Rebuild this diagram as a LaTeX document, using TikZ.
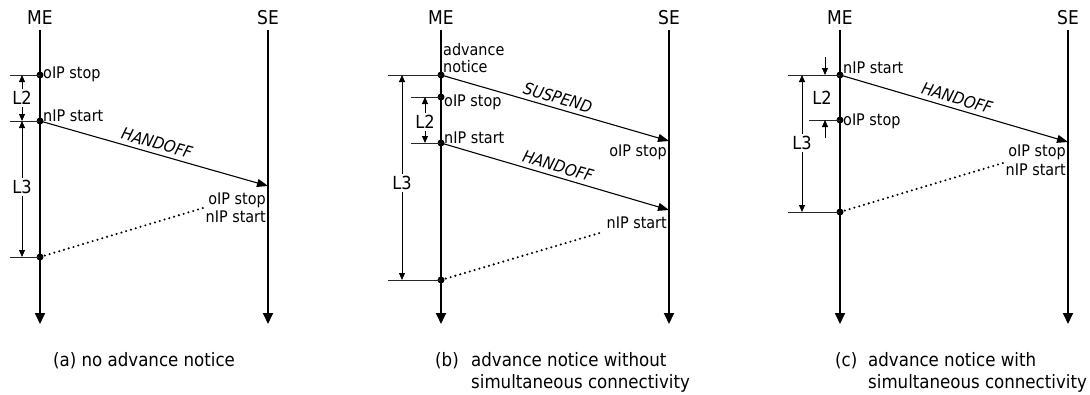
\documentclass[tikz,border=0pt]{standalone}
\usepackage{fontspec}
\setmainfont{DejaVu Sans Condensed}
\usetikzlibrary{arrows.meta}
\begin{document}
\begin{tikzpicture}[x=1pt,y=-1pt,
  life/.style={line width=1.8pt,-{Triangle[length=11pt,width=10pt]}},
  msg/.style={line width=1.1pt,-{Triangle[length=11pt,width=8pt]}},
  dimarrow/.style={line width=0.8pt,-{Triangle[length=7pt,width=6pt]}},
  tickline/.style={line width=0.9pt,black!85},
  dotline/.style={line width=2.3pt,dash pattern=on 0pt off 5pt,line cap=round},
  lbl/.style={inner sep=0pt,font=\fontsize{16}{18}\selectfont},
  mlbl/.style={inner sep=0pt,font=\fontsize{16.5}{18}\selectfont\itshape},
  dimlbl/.style={inner sep=2pt,font=\fontsize{18}{20}\selectfont},
  headlbl/.style={inner sep=0pt,font=\fontsize{19}{22}\selectfont},
  captxt/.style={inner sep=0pt,anchor=base west,font=\fontsize{18.5}{22}\selectfont},
  evdot/.style={circle,fill,inner sep=0pt,minimum size=7pt}
]
\useasboundingbox (0,0) rectangle (1090,394);

% ================= (a) =================
\node[headlbl] (aME) at (40,18) {ME};
\node[headlbl] (aSE) at (268,18) {SE};
\coordinate (aMEt) at (40,30); \coordinate (aMEb) at (40,324);
\coordinate (aSEt) at (268,30); \coordinate (aSEb) at (268,324);
\draw[life] (aMEt) -- (aMEb);
\draw[life] (aSEt) -- (aSEb);
\node[evdot] (a1) at (40,75) {};
\node[evdot] (a2) at (40,121) {};
\node[evdot] (a3) at (40,257) {};
\coordinate (aT1) at (10,75); \coordinate (aT2) at (10,121); \coordinate (aT3) at (10,257);
\draw[tickline] (aT1) -- (a1.center);
\draw[tickline] (aT2) -- (a2.center);
\draw[tickline] (aT3) -- (a3.center);
\coordinate (aD1) at (22,75); \coordinate (aD2) at (22,121); \coordinate (aD3) at (22,257);
\node[dimlbl] (aL2) at (22,98) {L2};
\node[dimlbl] (aL3) at (22,187) {L3};
\draw[dimarrow] (aL2.north) -- (aD1);
\draw[dimarrow] (aL2.south) -- (aD2);
\draw[dimarrow] (aL3.north) -- (aD2);
\draw[dimarrow] (aL3.south) -- (aD3);
\node[lbl,anchor=base west] (aoIP) at (43,78) {oIP stop};
\node[lbl,anchor=base west] (anIP) at (43,121) {nIP start};
\coordinate (aS1) at (268,186);
\draw[msg] (a2.center) -- node[mlbl,sloped,above=4pt] (aHO) {HANDOFF} (aS1);
\node[lbl,anchor=base east] (aSo) at (266,204) {oIP stop};
\node[lbl,anchor=base east] (aSn) at (266,222) {nIP start};
\coordinate (aDot) at (203,208);
\draw[dotline] (a3.center) -- (aDot);
\node[captxt] (acap) at (53,366) {(a) no advance notice};

% ================= (b) =================
\node[headlbl] (bME) at (441,18) {ME};
\node[headlbl] (bSE) at (669,18) {SE};
\coordinate (bMEt) at (441,30); \coordinate (bMEb) at (441,324);
\coordinate (bSEt) at (669,30); \coordinate (bSEb) at (669,324);
\draw[life] (bMEt) -- (bMEb);
\draw[life] (bSEt) -- (bSEb);
\node[evdot] (b1) at (441,75) {};
\node[evdot] (b2) at (441,97) {};
\node[evdot] (b3) at (441,143) {};
\node[evdot] (b4) at (441,280) {};
\coordinate (bT1) at (388,75); \coordinate (bT2) at (411,97);
\coordinate (bT3) at (411,143); \coordinate (bT4) at (388,280);
\draw[tickline] (bT1) -- (b1.center);
\draw[tickline] (bT2) -- (b2.center);
\draw[tickline] (bT3) -- (b3.center);
\draw[tickline] (bT4) -- (b4.center);
\coordinate (bD1) at (402,75); \coordinate (bD4) at (402,280);
\coordinate (bE2) at (425,97); \coordinate (bE3) at (425,143);
\node[dimlbl] (bL3) at (402,183) {L3};
\node[dimlbl] (bL2) at (425,122) {L2};
\draw[dimarrow] (bL3.north) -- (bD1);
\draw[dimarrow] (bL3.south) -- (bD4);
\draw[dimarrow] (bL2.north) -- (bE2);
\draw[dimarrow] (bL2.south) -- (bE3);
\node[lbl,anchor=base west] (badv) at (443,55) {advance};
\node[lbl,anchor=base west] (bnot) at (443,72) {notice};
\node[lbl,anchor=base west] (boIP) at (444,106) {oIP stop};
\node[lbl,anchor=base west] (bnIP) at (444,143) {nIP start};
\coordinate (bS1) at (669,141); \coordinate (bS2) at (669,210);
\draw[msg] (b1.center) -- node[mlbl,sloped,above=4pt] (bSU) {SUSPEND} (bS1);
\draw[msg] (b3.center) -- node[mlbl,sloped,above=4pt] (bHO) {HANDOFF} (bS2);
\node[lbl,anchor=base east] (bSo) at (667,156) {oIP stop};
\node[lbl,anchor=base east] (bSn) at (667,228) {nIP start};
\coordinate (bDot) at (603,232);
\draw[dotline] (b4.center) -- (bDot);
\node[captxt] (bcap0) at (435,366) {(b)};
\node[captxt] (bcap1) at (471,366) {advance notice without};
\node[captxt] (bcap2) at (471,388) {simultaneous connectivity};

% ================= (c) =================
\node[headlbl] (cME) at (840,18) {ME};
\node[headlbl] (cSE) at (1068,18) {SE};
\coordinate (cMEt) at (840,30); \coordinate (cMEb) at (840,324);
\coordinate (cSEt) at (1068,30); \coordinate (cSEb) at (1068,324);
\draw[life] (cMEt) -- (cMEb);
\draw[life] (cSEt) -- (cSEb);
\node[evdot] (c1) at (840,75) {};
\node[evdot] (c2) at (840,120) {};
\node[evdot] (c3) at (840,212) {};
\coordinate (cT1) at (788,75); \coordinate (cT2) at (809,120); \coordinate (cT3) at (788,212);
\draw[tickline] (cT1) -- (c1.center);
\draw[tickline] (cT2) -- (c2.center);
\draw[tickline] (cT3) -- (c3.center);
\coordinate (cD1) at (802,75); \coordinate (cD3) at (802,212);
\node[dimlbl] (cL3) at (802,143) {L3};
\draw[dimarrow] (cL3.north) -- (cD1);
\draw[dimarrow] (cL3.south) -- (cD3);
\node[dimlbl] (cL2) at (822,98) {L2};
\coordinate (cE1s) at (825,57); \coordinate (cE1) at (825,75);
\coordinate (cE2s) at (825,138); \coordinate (cE2) at (825,120);
\draw[dimarrow] (cE1s) -- (cE1);
\draw[dimarrow] (cE2s) -- (cE2);
\node[lbl,anchor=base west] (cnIP) at (843,73) {nIP start};
\node[lbl,anchor=base west] (coIP) at (843,125) {oIP stop};
\coordinate (cS1) at (1068,142);
\draw[msg] (c1.center) -- node[mlbl,sloped,above=4pt] (cHO) {HANDOFF} (cS1);
\node[lbl,anchor=base east] (cSo) at (1066,156) {oIP stop};
\node[lbl,anchor=base east] (cSn) at (1066,175) {nIP start};
\coordinate (cDot) at (1003,163);
\draw[dotline] (c3.center) -- (cDot);
\node[captxt] (ccap0) at (835,366) {(c)};
\node[captxt] (ccap1) at (868,366) {advance notice with};
\node[captxt] (ccap2) at (868,388) {simultaneous connectivity};
\end{tikzpicture}
\end{document}
